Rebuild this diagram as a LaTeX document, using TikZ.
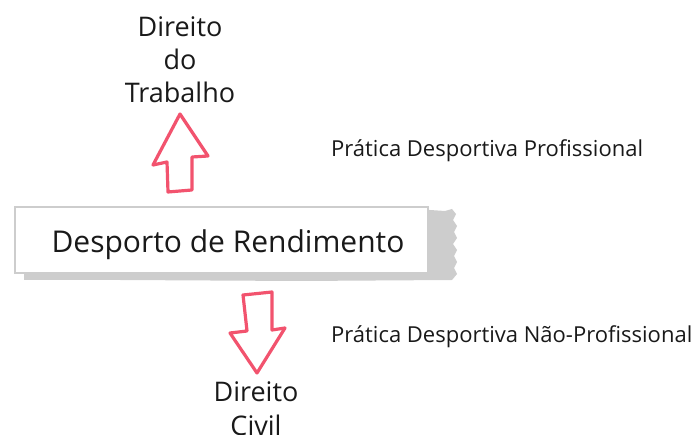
\documentclass[tikz,border=0pt]{standalone}
\usepackage{fontspec}
\setmainfont{Open Sans}
\definecolor{arrowred}{HTML}{F2536E}
\definecolor{shadowgray}{HTML}{CDCDCD}
\begin{document}
\begin{tikzpicture}[x=1pt,y=-1pt,
  lbl/.style={inner sep=0pt,align=center,text=black!90},
  bigarrow/.style={draw=arrowred,line width=3.2pt,fill=white,line join=round}]
\useasboundingbox (0,0) rectangle (699,435);
% shadow with rough right edge
\fill[shadowgray] (24,212) -- (430,210) -- (445,211) -- (452,209) -- (456,214) -- (453,220) -- (457,226) -- (454,232) -- (457,238) -- (453,244) -- (457,250) -- (454,256) -- (457,262) -- (454,268) -- (457,274) -- (452,280) -- (300,281) -- (120,280) -- (24,280) -- cycle;
\node[draw=shadowgray,line width=2pt,fill=white,minimum width=413pt,minimum height=66pt,inner sep=0pt,anchor=north west] (box) at (14,206) {};
\node[lbl,font=\fontsize{30}{36}\selectfont,anchor=base] (main) at (228,253) {Desporto de Rendimento};
% up arrow
\draw[bigarrow] (180,114) -- (208,156) -- (192,157) -- (192,190) -- (168,192) -- (167,162) -- (153,165) -- cycle;
\coordinate (uptip) at (180,114);
% down arrow
\draw[bigarrow] (243,295) -- (272,292) -- (272,330) -- (285,328) -- (257,373) -- (230,333) -- (247,331) -- cycle;
\coordinate (downtip) at (257,373);
\node[lbl,font=\fontsize{27}{33}\selectfont,anchor=north] (trab) at (180,16.5) {Direito\\do\\Trabalho};
\node[lbl,font=\fontsize{27}{34}\selectfont,anchor=north] (civil) at (256,381.5) {Direito\\Civil};
\node[lbl,font=\fontsize{22}{26}\selectfont,anchor=base west] (prof) at (331,157) {Prática Desportiva Profissional};
\node[lbl,font=\fontsize{22}{26}\selectfont,anchor=base west] (naoprof) at (331,343) {Prática Desportiva Não-Profissional};
\end{tikzpicture}
\end{document}
